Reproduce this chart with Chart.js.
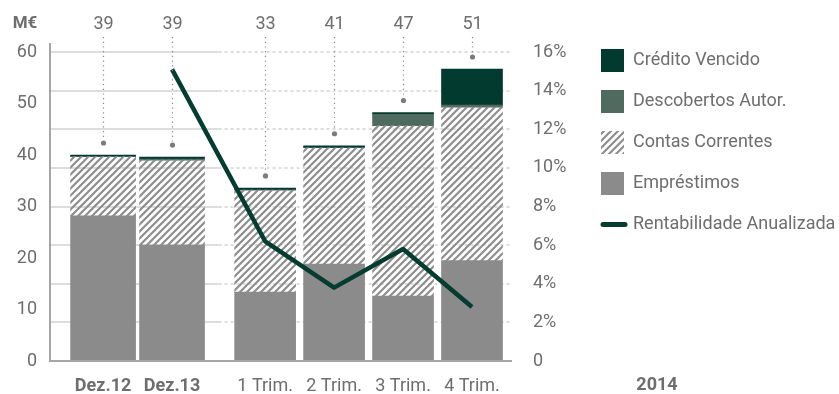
<!DOCTYPE html>
<html>
<head>
<meta charset="utf-8">
<script src="https://cdn.jsdelivr.net/npm/chart.js@4/dist/chart.umd.min.js"></script>
<style>
  html, body { margin: 0; padding: 0; background: #ffffff; }
  canvas { display: block; }
</style>
</head>
<body>
<canvas id="creditoChart" width="839" height="394"></canvas>
<script>
// Carteira de crédito (M€) e rentabilidade anualizada
const categories = ['Dez.12', 'Dez.13', '1 Trim.', '2 Trim.', '3 Trim.', '4 Trim.'];
const blockOf = [0, 0, 1, 1, 1, 1];   // 0 = fecho de ano, 1 = trimestres 2014
const emprestimos = [28.2, 22.5, 13.4, 18.8, 12.6, 19.5];
const contasCorrentes = [11.5, 16.5, 19.8, 22.6, 33.1, 29.8];
const descobertos = [0, 0.2, 0, 0, 2.2, 0.4];
const creditoVencido = [0.3, 0.4, 0.4, 0.4, 0.35, 7.0];
const rentabilidade = [null, 15.1, 6.2, 3.8, 5.8, 2.8];
const totalLabels = [39, 39, 33, 41, 47, 51];
const valueTicks = [0, 10, 20, 30, 40, 50, 60];
const rateTicks = [0, 2, 4, 6, 8, 10, 12, 14, 16];

const FONT = 'Roboto, "Open Sans", sans-serif';
const TEXT = '#6e6e6e';
const GRAY = '#8a8b8a';
const MID = '#4f6b60';
const DARK = '#033a2f';
const BLOCK_GAP = 0.35;
const blockBarWidth = [65, 61];

Chart.defaults.font.family = FONT;
Chart.defaults.color = TEXT;

const canvas = document.getElementById('creditoChart');
const ctx = canvas.getContext('2d');

// padrão tracejado das contas correntes
function makeHatch() {
    const tile = document.createElement('canvas');
    tile.width = 7;
    tile.height = 7;
    const g = tile.getContext('2d');
    g.strokeStyle = '#8e8e8e';
    g.lineWidth = 2.2;
    g.beginPath();
    g.moveTo(0, 7); g.lineTo(7, 0);
    g.moveTo(-2, 2); g.lineTo(2, -2);
    g.moveTo(5, 9); g.lineTo(9, 5);
    g.stroke();
    return ctx.createPattern(tile, 'repeat');
}
const hatch = makeHatch();

const xPos = categories.map((c, i) => i + blockOf[i] * BLOCK_GAP);

const series = [
    { label: 'Empréstimos', values: emprestimos, color: GRAY },
    { label: 'Contas Correntes', values: contasCorrentes, color: hatch },
    { label: 'Descobertos Autor.', values: descobertos, color: MID },
    { label: 'Crédito Vencido', values: creditoVencido, color: DARK }
];

const datasets = [];
series.forEach(s => {
    [0, 1].forEach(b => {
        datasets.push({
            type: 'bar',
            label: s.label,
            data: categories.map((c, i) => ({ x: xPos[i], y: s.values[i] })).filter((p, i) => blockOf[i] === b),
            backgroundColor: s.color,
            borderWidth: 0,
            barThickness: blockBarWidth[b],
            stack: 'credito',
            yAxisID: 'y',
            order: 1
        });
    });
});
datasets.push({
    type: 'line',
    label: 'Rentabilidade Anualizada',
    data: categories.map((c, i) => ({ x: xPos[i], y: rentabilidade[i] })),
    yAxisID: 'y1',
    borderColor: '#053c30',
    borderWidth: 4.5,
    borderJoinStyle: 'round',
    pointRadius: 0,
    tension: 0,
    order: 0
});

function hline(c, x0, x1, y) {
    c.beginPath();
    c.moveTo(x0, y);
    c.lineTo(x1, y);
    c.stroke();
}

const decor = {
    id: 'decor',
    beforeDatasetsDraw(chart) {
        const { ctx: c, chartArea: a, scales: { x, y1 } } = chart;
        const split = (x.getPixelForValue(xPos[1]) + x.getPixelForValue(xPos[2])) / 2;
        c.save();
        c.strokeStyle = '#dddddd';
        c.lineWidth = 2;
        rateTicks.forEach(v => {
            if (v === 0) return;
            const py = Math.round(y1.getPixelForValue(v));
            c.setLineDash([]);
            hline(c, a.left, split, py);
            c.setLineDash([3, 3]);
            hline(c, split, a.right, py);
        });
        c.restore();
    },
    afterDatasetsDraw(chart) {
        const { ctx: c, chartArea: a, scales: { x, y } } = chart;
        c.save();

        // eixos
        c.strokeStyle = '#a5a5a5';
        c.lineWidth = 2;
        c.beginPath();
        c.moveTo(a.left, a.top - 9);
        c.lineTo(a.left, a.bottom);
        c.lineTo(a.right, a.bottom);
        c.stroke();

        // totais com linha pontilhada até ao topo da barra
        c.font = '18px ' + FONT;
        c.textAlign = 'center';
        c.textBaseline = 'middle';
        categories.forEach((cat, i) => {
            const px = Math.round(x.getPixelForValue(xPos[i])) + 0.5;
            const total = series.reduce((sum, s) => sum + s.values[i], 0);
            const dotY = y.getPixelForValue(total) - 12;
            c.strokeStyle = '#8a8a8a';
            c.lineWidth = 1.2;
            c.setLineDash([1.2, 3.5]);
            c.beginPath();
            c.moveTo(px, 37);
            c.lineTo(px, dotY - 3);
            c.stroke();
            c.setLineDash([]);
            c.fillStyle = '#7c7c7c';
            c.beginPath();
            c.arc(px, dotY, 2.6, 0, Math.PI * 2);
            c.fill();
            c.fillStyle = TEXT;
            c.fillText(String(totalLabels[i]), px, 24);
        });

        c.font = 'bold 17px ' + FONT;
        c.fillText('M€', 25, 24);
        c.font = 'bold 18px ' + FONT;
        c.fillText('2014', 657, 385);

        // legenda
        const legendX = 601;
        const legendY = 60.5;
        const step = 41;
        const items = series.slice().reverse();
        c.textAlign = 'left';
        c.font = '18px ' + FONT;
        items.forEach((s, k) => {
            const cy = legendY + k * step;
            c.fillStyle = s.color;
            c.fillRect(legendX, cy - 11.5, 23, 23);
            c.fillStyle = TEXT;
            c.fillText(s.label, 633, cy);
        });
        const ly = legendY + items.length * step;
        c.strokeStyle = '#053c30';
        c.lineWidth = 5;
        c.lineCap = 'round';
        hline(c, legendX + 2, legendX + 24, ly);
        c.fillStyle = TEXT;
        c.fillText('Rentabilidade Anualizada', 633, ly);

        c.restore();
    }
};

new Chart(canvas, {
    type: 'bar',
    data: { datasets: datasets },
    options: {
        responsive: false,
        animation: false,
        devicePixelRatio: 1,
        layout: { padding: { top: 52, left: 0, right: 0, bottom: 0 } },
        plugins: {
            legend: { display: false },
            tooltip: { enabled: false }
        },
        scales: {
            x: {
                type: 'linear',
                min: -0.77,
                max: 5.93,
                offset: false,
                grid: { display: false, drawTicks: false, offset: false },
                border: { display: false },
                afterBuildTicks: (scale) => {
                    scale.ticks = xPos.map(v => ({ value: v }));
                },
                afterFit: (scale) => { scale.height = 33; },
                ticks: {
                    autoSkip: false,
                    maxRotation: 0,
                    padding: 15,
                    color: TEXT,
                    font: (tc) => ({ size: 18, weight: blockOf[tc.index] === 0 ? 'bold' : 'normal' }),
                    callback: (value, index) => categories[index]
                }
            },
            y: {
                position: 'left',
                stacked: true,
                min: 0,
                max: 60,
                grid: { display: false, drawTicks: false },
                border: { display: false },
                afterBuildTicks: (scale) => {
                    scale.ticks = valueTicks.map(v => ({ value: v }));
                },
                afterFit: (scale) => { scale.width = 50; },
                ticks: { padding: 13, color: TEXT, font: { size: 18 } }
            },
            y1: {
                position: 'right',
                min: 0,
                max: 16,
                grid: { display: false, drawTicks: false },
                border: { display: false },
                afterBuildTicks: (scale) => {
                    scale.ticks = rateTicks.map(v => ({ value: v }));
                },
                afterFit: (scale) => { scale.width = 327; },
                ticks: {
                    padding: 21,
                    color: TEXT,
                    font: { size: 18 },
                    callback: (v) => v === 0 ? '0' : v + '%'
                }
            }
        }
    },
    plugins: [decor]
});
</script>
</body>
</html>
